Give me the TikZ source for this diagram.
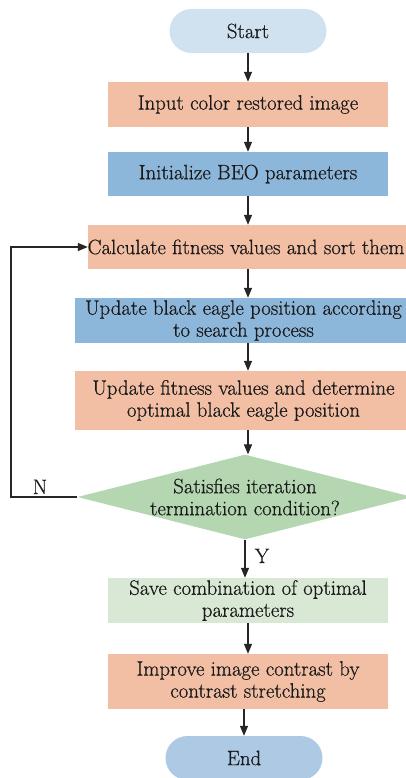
\documentclass[tikz,border=0pt]{standalone}
\usepackage{fontspec}
\setmainfont{Latin Modern Roman}[BoldFont={Latin Modern Roman}, BoldFeatures={FakeBold=0.6}]
\usetikzlibrary{shapes.geometric,arrows.meta}
\definecolor{cstart}{HTML}{D0E1F0}
\definecolor{csalmon}{HTML}{F2BFA4}
\definecolor{cblue}{HTML}{8DB7DA}
\definecolor{cgreen}{HTML}{B4D7B1}
\definecolor{clgreen}{HTML}{D9E8D4}
\definecolor{cend}{HTML}{ADC9E4}
\definecolor{ctext}{HTML}{1A1A1A}
\tikzset{
  box/.style={rectangle, inner sep=0pt, align=center, text=ctext,
    font=\fontsize{20.8}{22}\selectfont\bfseries},
  term/.style={box, rounded corners=22pt, minimum width=157pt, minimum height=44pt},
  arr/.style={draw=black!85, line width=1.2pt, -{Triangle[length=10pt,width=8pt]}},
  lbl/.style={text=ctext, font=\fontsize{20.8}{22}\selectfont\bfseries, inner sep=0pt}
}
\begin{document}
\begin{tikzpicture}[x=1pt,y=-1pt]
\useasboundingbox (0,0) rectangle (406,778);
\clip (0,0) rectangle (406,778);
\node[term, fill=cstart] (start) at (248,31) {Start};
\node[box, fill=csalmon, minimum width=280pt, minimum height=45pt] (input) at (248,104.5) {Input color restored image};
\node[box, fill=cblue, minimum width=280pt, minimum height=44pt] (init) at (248,174) {Initialize BEO parameters};
\node[box, fill=csalmon, minimum width=324pt, minimum height=44pt] (calc) at (250,247) {\hspace*{-8pt}Calculate fitness values and sort them};
\node[box, fill=cblue, minimum width=337pt, minimum height=45pt] (upd1) at (243.5,320.5) {Update black eagle position according\\to search process};
\node[box, fill=csalmon, minimum width=337pt, minimum height=59pt] (upd2) at (243.5,400.5) {Update fitness values and determine\\optimal black eagle position};
\node[diamond, fill=cgreen, inner sep=0pt, minimum width=332pt, minimum height=84pt, aspect=3.95, align=center, text=ctext, font=\fontsize{20.8}{22}\selectfont\bfseries] (dia) at (245,497) {Satisfies iteration\\termination condition?};
\node[box, fill=clgreen, minimum width=280pt, minimum height=45pt] (save) at (248,600.5) {Save combination of optimal\\parameters};
\node[box, fill=csalmon, minimum width=280pt, minimum height=55pt] (impr) at (248,681.5) {Improve image contrast by\\contrast stretching};
\node[term, fill=cend] (end) at (244,758) {End};
\coordinate (lx) at (11,0);
\draw[arr] (start) -- (input);
\draw[arr] (input) -- (init);
\draw[arr] (init.south) -- (calc.north -| init.south);
\draw[arr] (calc.south -| init.south) -- (upd1.north -| init.south);
\draw[arr] (upd1.south -| init.south) -- (upd2.north -| init.south);
\draw[arr] (upd2.south -| init.south) -- (dia.north -| init.south);
\draw[arr] (dia.south) -- (save.north -| dia.south);
\draw[arr] (save) -- (impr);
\draw[arr] (impr.south -| end.north) -- (end.north);
\draw[arr] (dia.west) -- (dia.west -| lx) |- (calc.west);
\node[lbl, anchor=base] (nlab) at (40,494) {N};
\node[lbl, anchor=base] (ylab) at (262,563) {Y};
\end{tikzpicture}
\end{document}
